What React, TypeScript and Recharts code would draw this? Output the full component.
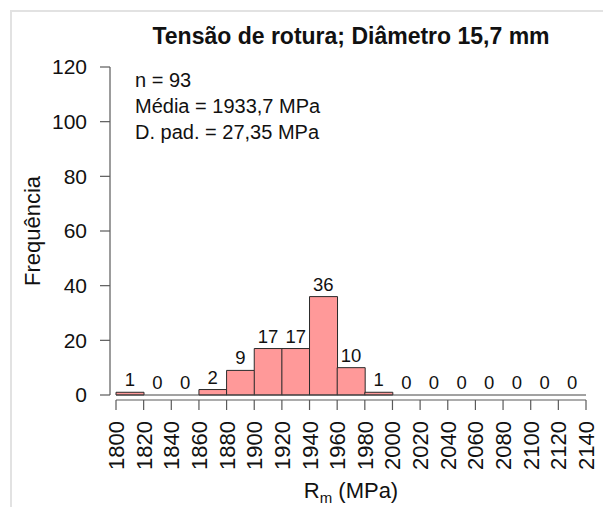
import React from 'react';
import { ComposedChart, Bar, Line, XAxis, YAxis, ReferenceLine, LabelList } from 'recharts';

const binStarts = [1800, 1820, 1840, 1860, 1880, 1900, 1920, 1940, 1960, 1980, 2000, 2020, 2040, 2060, 2080, 2100, 2120];
const binWidth = 20;
const counts = [1, 0, 0, 2, 9, 17, 17, 36, 10, 1, 0, 0, 0, 0, 0, 0, 0];
const xTicks = [1800, 1820, 1840, 1860, 1880, 1900, 1920, 1940, 1960, 1980, 2000, 2020, 2040, 2060, 2080, 2100, 2120, 2140];
const yTicks = [0, 20, 40, 60, 80, 100, 120];
const titleText = 'Tensão de rotura; Diâmetro 15,7 mm';
const statsLines = ['n = 93', 'Média = 1933,7 MPa', 'D. pad. = 27,35 MPa'];
const yLabel = 'Frequência';

const data = binStarts.map((s, i) => ({ mid: s + binWidth / 2, count: counts[i] }));

const FONT = '"Liberation Sans", Arial, Helvetica, sans-serif';
const AXIS_COLOR = '#5a5a5a';
const TEXT_COLOR = '#111';

const XTick = (props: any) => {
  const { x, y, payload } = props;
  const bx = x + 8;
  return (
    <text
      x={bx}
      y={y}
      transform={`rotate(-90, ${bx}, ${y})`}
      textAnchor="end"
      fontSize={22}
      fontFamily={FONT}
      fill={TEXT_COLOR}
    >
      {payload.value}
    </text>
  );
};

const CountLabel = (props: any) => {
  const { x, y, value } = props;
  return (
    <text x={x} y={y - 6} textAnchor="middle" fontSize={18.5} fontFamily={FONT} fill={TEXT_COLOR}>
      {value}
    </text>
  );
};

export default function App() {
  return (
    <div style={{ position: 'absolute', left: 0, top: 0, width: 603, height: 507, background: '#fff', fontFamily: FONT }}>
      <div
        style={{
          position: 'absolute',
          left: 10,
          top: 10,
          width: 593,
          height: 497,
          borderLeft: '2px solid #e2e2e2',
          borderTop: '2px solid #e2e2e2',
          boxSizing: 'border-box',
        }}
      />
      <div style={{ position: 'absolute', left: 0, top: 0 }}>
        <ComposedChart
          width={603}
          height={507}
          data={data}
          margin={{ top: 67, right: 17, bottom: 0, left: 0 }}
          barCategoryGap={0}
          barGap={0}
        >
          <XAxis
            dataKey="mid"
            type="number"
            domain={[1800, 2140]}
            ticks={xTicks}
            interval={0}
            height={112}
            tickSize={10}
            tickMargin={16}
            tick={<XTick />}
            axisLine={{ stroke: AXIS_COLOR, strokeWidth: 1.2, transform: 'translate(0,5)' }}
            tickLine={{ stroke: AXIS_COLOR, strokeWidth: 1.2, transform: 'translate(0,5)' }}
          />
          <YAxis
            type="number"
            domain={[0, 120]}
            ticks={yTicks}
            interval={0}
            width={116}
            tickSize={10}
            tickMargin={19}
            tick={{ fontSize: 21, fontFamily: FONT, fill: TEXT_COLOR }}
            axisLine={{ stroke: AXIS_COLOR, strokeWidth: 1.2, transform: 'translate(-6,0)' }}
            tickLine={{ stroke: AXIS_COLOR, strokeWidth: 1.2, transform: 'translate(-6,0)' }}
          />
          <ReferenceLine y={0} stroke="#444" strokeWidth={1} />
          <Bar dataKey="count" fill="#FF9999" stroke="#2a2a2a" strokeWidth={1} isAnimationActive={false} />
          <Line
            dataKey="count"
            stroke="none"
            dot={false}
            activeDot={false}
            isAnimationActive={false}
          >
            <LabelList dataKey="count" content={<CountLabel />} />
          </Line>
        </ComposedChart>
      </div>
      <svg width={603} height={507} style={{ position: 'absolute', left: 0, top: 0, pointerEvents: 'none' }}>
        <text x={351} y={44} textAnchor="middle" fontSize={23} fontWeight="bold" fontFamily={FONT} fill={TEXT_COLOR}>
          {titleText}
        </text>
        {statsLines.map((line, i) => (
          <text key={i} x={135} y={87 + i * 26} fontSize={20} fontFamily={FONT} fill={TEXT_COLOR}>
            {line}
          </text>
        ))}
        <text
          x={40}
          y={231}
          transform="rotate(-90, 40, 231)"
          textAnchor="middle"
          fontSize={22}
          fontFamily={FONT}
          fill={TEXT_COLOR}
        >
          {yLabel}
        </text>
        <text x={351} y={498} textAnchor="middle" fontSize={22} fontFamily={FONT} fill={TEXT_COLOR}>
          <tspan>R</tspan>
          <tspan fontSize={15} dy={5}>m</tspan>
          <tspan dy={-5}> (MPa)</tspan>
        </text>
      </svg>
    </div>
  );
}
